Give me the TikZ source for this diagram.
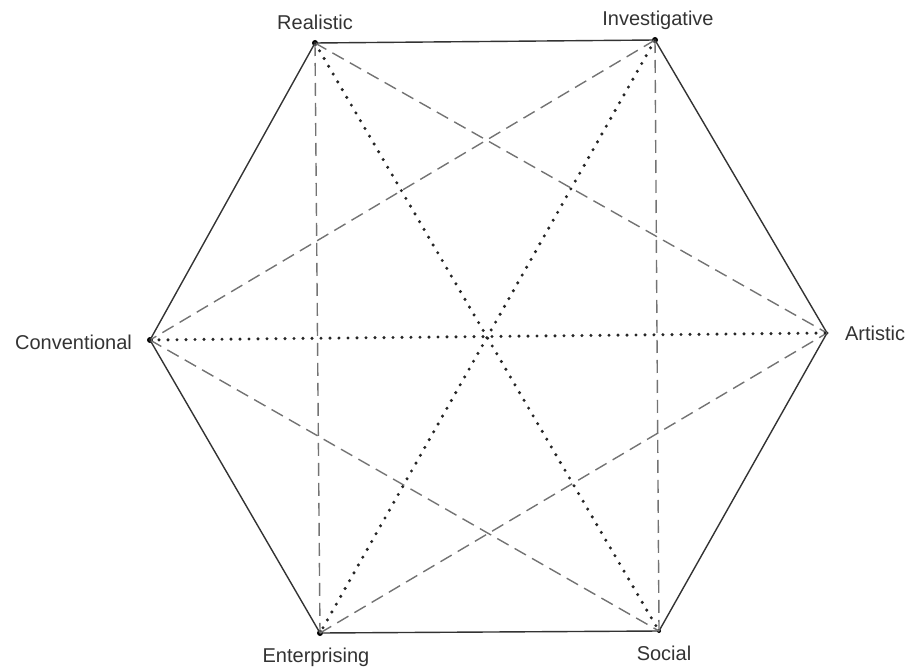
\documentclass[tikz,border=0pt]{standalone}
\usepackage{fontspec}
\setmainfont{Liberation Sans}
\begin{document}
\begin{tikzpicture}[x=1pt,y=-1pt,
  side/.style={draw=black!80,line width=1.4pt},
  dashline/.style={draw=black!55,line width=1.4pt,dash pattern=on 13pt off 7pt},
  dotline/.style={draw=black!85,line width=3.4pt,line cap=round,dash pattern=on 0pt off 9pt},
  vert/.style={circle,fill=black,inner sep=0pt,minimum size=6pt},
  lab/.style={font=\fontsize{20}{23}\selectfont,text=black!80,inner sep=0pt}]
\useasboundingbox (0,0) rectangle (917,666);
\node[vert] (R) at (315,43) {};
\node[vert] (I) at (655,40) {};
\node[vert,minimum size=3pt] (A) at (827,333) {};
\node[vert,minimum size=4pt] (S) at (659,631) {};
\node[vert] (E) at (320,633) {};
\node[vert] (C) at (150,340) {};
\draw[side] (R.center) -- (I.center) -- (A.center) -- (S.center) -- (E.center) -- (C.center) -- cycle;
\draw[dashline] (R.center) -- (E.center);
\draw[dashline] (I.center) -- (S.center);
\draw[dashline] (R.center) -- (A.center);
\draw[dashline] (I.center) -- (C.center);
\draw[dashline] (C.center) -- (S.center);
\draw[dashline] (E.center) -- (A.center);
\draw[dotline] (R.center) -- (S.center);
\draw[dotline] (I.center) -- (E.center);
\draw[dotline] (C.center) -- (A.center);
\node[lab] (lR) at (315,22) {Realistic};
\node[lab] (lI) at (658,20) {Investigative};
\node[lab] (lC) at (73.5,342) {Conventional};
\node[lab] (lA) at (875,333) {Artistic};
\node[lab] (lE) at (316,657) {Enterprising};
\node[lab] (lS) at (664,653) {Social};
\end{tikzpicture}
\end{document}
